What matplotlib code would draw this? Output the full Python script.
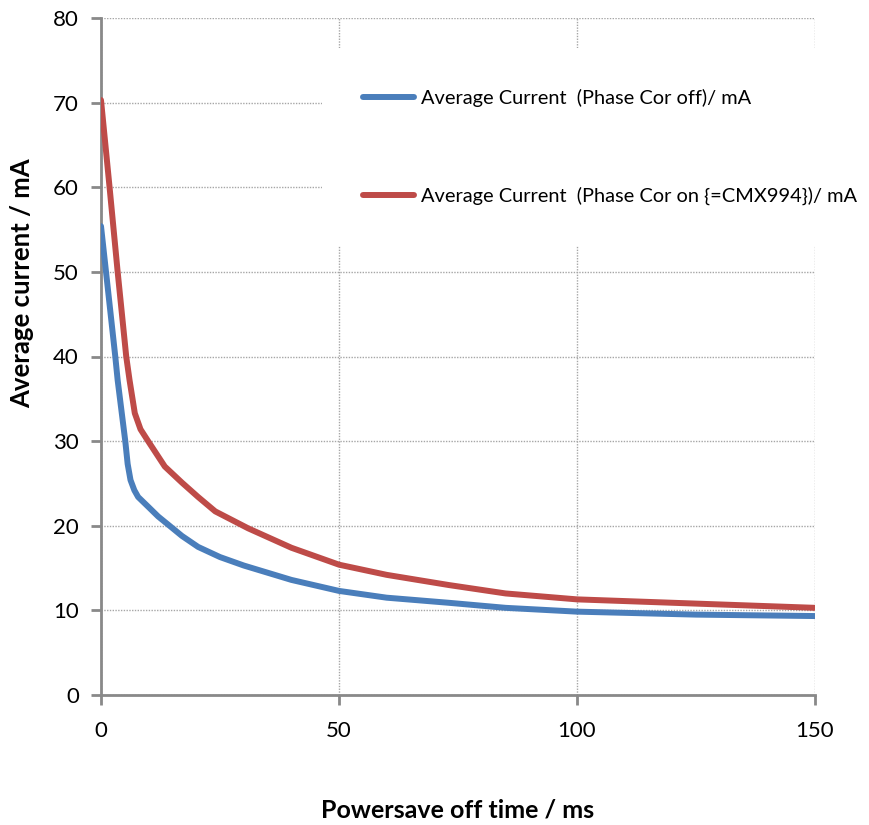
import matplotlib
matplotlib.use("Agg")
import matplotlib.pyplot as plt

plt.rcParams['font.family'] = ['Lato', 'DejaVu Sans']

# Data
x_off = [0, 1.5, 3.0, 3.5, 4.3, 5.1, 5.6, 6.2, 7.0, 7.8, 10, 12, 14.4, 17, 20.4, 25, 30, 40, 50, 60, 73, 85, 100, 125, 150]
y_off = [55.4, 47.7, 40, 37.2, 33.6, 30, 27.3, 25.4, 24.2, 23.4, 22.2, 21.1, 20, 18.8, 17.5, 16.3, 15.3, 13.6, 12.3, 11.5, 10.9, 10.3, 9.85, 9.5, 9.33]

x_on = [0, 1.8, 3.5, 5.3, 6.0, 7.1, 8.3, 9.9, 13.4, 17, 20.4, 24, 30.9, 40, 50, 60, 73, 85, 100, 125, 150]
y_on = [70.3, 60, 50, 40, 37.2, 33.3, 31.4, 30, 27, 25.1, 23.4, 21.7, 19.7, 17.4, 15.4, 14.2, 13.0, 12.0, 11.3, 10.8, 10.3]

label_off = "Average Current  (Phase Cor off)/ mA"
label_on = "Average Current  (Phase Cor on {=CMX994})/ mA"

x_ticks = [0, 50, 100, 150]
y_ticks = [0, 10, 20, 30, 40, 50, 60, 70, 80]

fig = plt.figure(figsize=(8.7, 8.25), dpi=100)
ax = fig.add_axes([101/870, 1 - 695/825, (815 - 101)/870, (695 - 18)/825])

ax.plot(x_off, y_off, color='#4A7EBB', lw=4.3, solid_capstyle='round',
        solid_joinstyle='round', label=label_off, zorder=3)
ax.plot(x_on, y_on, color='#BE4B48', lw=4.3, solid_capstyle='round',
        solid_joinstyle='round', label=label_on, zorder=3)

ax.set_xlim(0, 150)
ax.set_ylim(0, 80)
ax.set_xticks(x_ticks)
ax.set_yticks(y_ticks)
ax.grid(True, color='#A6A6A6', linestyle=(0, (1, 1)), lw=1.0, zorder=0)
ax.set_axisbelow(True)

for s in ['top', 'right']:
    ax.spines[s].set_visible(False)
for s in ['left', 'bottom']:
    ax.spines[s].set_color('#898989')
    ax.spines[s].set_linewidth(2)
ax.tick_params(axis='both', direction='out', length=7, width=2, color='#898989',
               labelsize=16)
ax.tick_params(axis='y', pad=9)
ax.tick_params(axis='x', pad=12)

ax.set_xlabel("Powersave off time / ms", fontsize=18, fontweight='bold', labelpad=41)
ax.set_ylabel("Average current / mA", fontsize=18.5, fontweight='bold')
ax.yaxis.set_label_coords(-0.094, 0.609)

leg = ax.legend(loc='upper left', bbox_to_anchor=(322/870, 1 - 48/825),
                bbox_transform=fig.transFigure, borderaxespad=0,
                frameon=True, fancybox=False,
                facecolor='white', edgecolor='none', framealpha=1,
                fontsize=14.4, borderpad=2.05, labelspacing=3.98,
                handlelength=2.55, handletextpad=0.35)
leg.set_zorder(5)

fig.savefig("out.png", dpi=100)
